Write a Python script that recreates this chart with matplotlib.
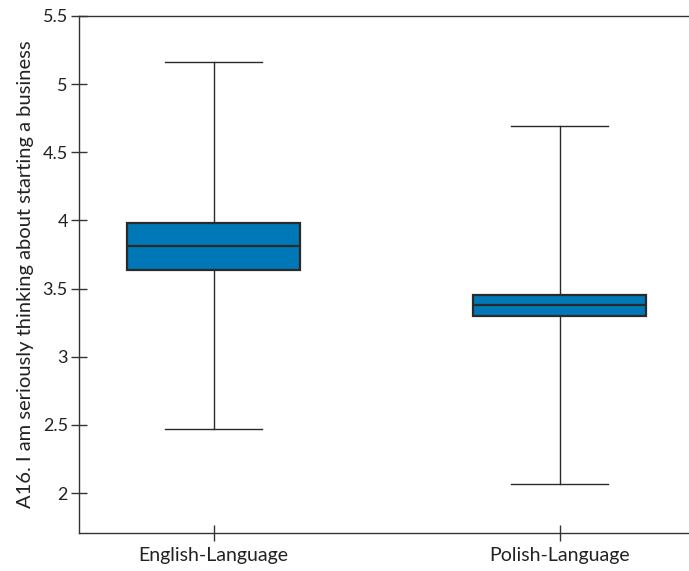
import matplotlib.pyplot as plt

# Summary statistics per group (read as box-plot five-number summaries)
groups = ["English-Language", "Polish-Language"]
whisker_low = [2.47, 2.07]
q1 = [3.64, 3.30]
median = [3.81, 3.38]
q3 = [3.98, 3.45]
whisker_high = [5.16, 4.69]

y_label = "A16. I am seriously thinking about starting a business"

plt.rcParams["font.family"] = ["Lato", "DejaVu Sans"]

fig = plt.figure(figsize=(6.89, 5.71), dpi=100)
ax = fig.add_axes([79 / 689, 38 / 571, 1 - 79 / 689, 517 / 571])

stats = []
for i, name in enumerate(groups):
    stats.append(dict(label=name, whislo=whisker_low[i], q1=q1[i],
                      med=median[i], q3=q3[i], whishi=whisker_high[i],
                      fliers=[]))

edge = "#2a2a2a"
ax.bxp(stats, positions=[1, 2], widths=0.5, patch_artist=True,
       showfliers=False, capwidths=0.28,
       boxprops=dict(facecolor="#0077b6", edgecolor=edge, linewidth=1.6),
       medianprops=dict(color=edge, linewidth=1.6),
       whiskerprops=dict(color=edge, linewidth=1.0),
       capprops=dict(color=edge, linewidth=1.0))

ax.set_xlim(0.611, 2.374)
ax.set_ylim(1.707, 5.5)
ax.set_yticks([2, 2.5, 3, 3.5, 4, 4.5, 5, 5.5])
ax.set_yticklabels(["2", "2.5", "3", "3.5", "4", "4.5", "5", "5.5"])

for side in ("left", "bottom", "top"):
    ax.spines[side].set_color("#333333")
    ax.spines[side].set_linewidth(1.0)
ax.spines["right"].set_visible(False)

ax.tick_params(axis="both", direction="inout", length=12, width=1.0,
               color="#333333", labelcolor="#222222")
ax.tick_params(axis="y", pad=2, labelsize=13)
ax.tick_params(axis="x", pad=4, labelsize=14)

ax.set_ylabel(y_label, fontsize=14.5, color="#222222", labelpad=6)

fig.savefig("out.png", dpi=100)
